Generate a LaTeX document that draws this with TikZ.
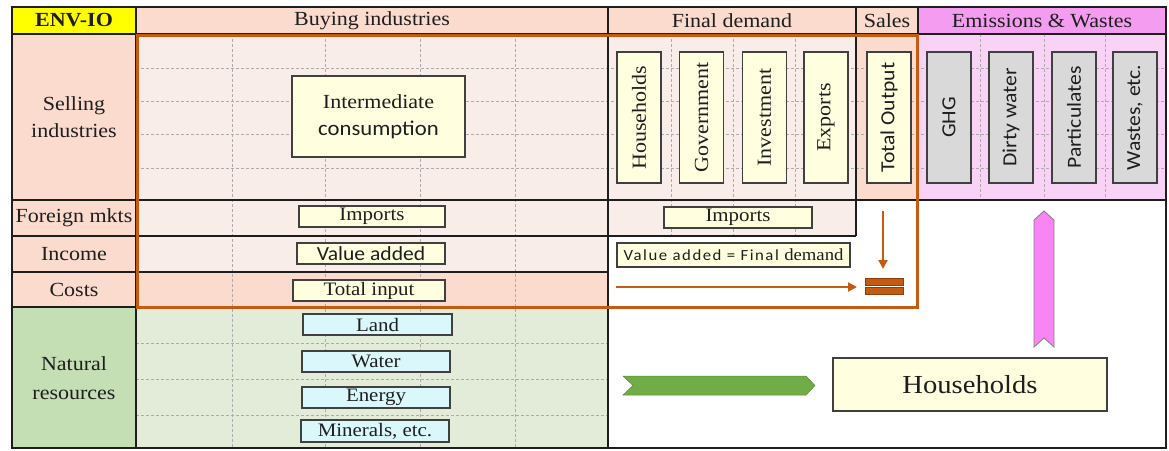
\documentclass[tikz,border=0pt]{standalone}
\usepackage{fontspec}
\setmainfont{Liberation Serif}[FakeStretch=1.1]
\setsansfont{Carlito}[FakeStretch=1.08]
\usetikzlibrary{arrows.meta}
\definecolor{peach}{HTML}{FADBCD}
\definecolor{lightpeach}{HTML}{F8EDE9}
\definecolor{envyellow}{HTML}{FFFF00}
\definecolor{magentahead}{HTML}{F49CF0}
\definecolor{lightmag}{HTML}{F9D3F6}
\definecolor{greenlabel}{HTML}{C5DFB4}
\definecolor{lightgreen}{HTML}{E3ECD9}
\definecolor{cream}{HTML}{FFFFE0}
\definecolor{cyanbox}{HTML}{DAF8FB}
\definecolor{graybox}{HTML}{D9D9D9}
\definecolor{orng}{HTML}{C55A11}
\definecolor{chevgreen}{HTML}{70AD47}
\definecolor{pinkarrow}{HTML}{F985F4}
\definecolor{ink}{HTML}{1E1E1E}
\newcommand{\fsz}[2]{\fontsize{#1}{#2}\selectfont}
\tikzset{
  gridline/.style={gray!65, densely dashed, line width=0.7pt},
  majorline/.style={ink, line width=2pt},
  box/.style={draw=ink!85, line width=1.2pt, inner sep=0pt, outer sep=0pt, text=ink, align=center},
  creambox/.style={box, fill=cream},
  cyanb/.style={box, fill=cyanbox},
  grayb/.style={box, fill=graybox},
  lbl/.style={text=ink, inner sep=0pt, align=center, font=\fsz{20}{21}},
  vbox/.style={rotate=90, minimum width=131pt, minimum height=44pt},
  oarrow/.style={orng, line width=2pt, -{Triangle[length=9pt,width=9pt]}},
  eqbar/.style={draw=orng!70!black, line width=0.6pt, fill=orng, minimum width=38pt, minimum height=7pt, inner sep=0pt, outer sep=0pt},
}
\begin{document}
\begin{tikzpicture}[x=1pt,y=-1pt]
\useasboundingbox (0,0) rectangle (1169,450);
% fills
\fill[envyellow] (12,7) rectangle (136,34);
\fill[peach] (136,7) rectangle (918,34);
\fill[magentahead] (918,7) rectangle (1166,34);
\fill[peach] (12,34) rectangle (136,307);
\fill[lightpeach] (136,34) rectangle (856,200);
\fill[peach] (856,34) rectangle (918,200);
\fill[lightmag] (918,34) rectangle (1166,200);
\fill[lightpeach] (136,200) rectangle (856,236);
\fill[lightpeach] (136,236) rectangle (608,272);
\fill[peach] (136,272) rectangle (608,307);
\fill[greenlabel] (12,307) rectangle (136,448);
\fill[lightgreen] (136,307) rectangle (608,448);
% dashed grid
\foreach \x in {232,325,420,515} \draw[gridline] (\x,34) -- (\x,448);
\foreach \x in {671,733,795} \draw[gridline] (\x,34) -- (\x,236);
\foreach \x in {980,1044,1105} \draw[gridline] (\x,34) -- (\x,200);
\foreach \y in {68,101,134,168} \draw[gridline] (136,\y) -- (1166,\y);
\foreach \y in {343,379,415} \draw[gridline] (136,\y) -- (608,\y);
% major lines
\draw[majorline] (12,7) rectangle (1166,448);
\draw[majorline] (12,34) -- (1166,34);
\draw[majorline] (136,7) -- (136,448);
\draw[majorline] (608,7) -- (608,448);
\draw[majorline] (856,7) -- (856,236);
\draw[majorline] (918,7) -- (918,200);
\draw[majorline] (12,200) -- (1166,200);
\draw[majorline] (12,236) -- (856,236);
\draw[majorline] (12,272) -- (608,272);
\draw[majorline] (12,307) -- (608,307);
% orange frame
\draw[orng, line width=3pt] (137.5,35) rectangle (917,307);
% headers
\node[lbl, font=\fsz{20}{21}\bfseries] (envio) at (74,20.5) {ENV-IO};
\node[lbl] (buying) at (372,20.5) {Buying industries};
\node[lbl] (final) at (732,20.5) {Final demand};
\node[lbl] (sales) at (887,20.5) {Sales};
\node[lbl] (emis) at (1042,20.5) {Emissions \& Wastes};
% row labels
\node[lbl, font=\fsz{20}{27}] (selling) at (74,117) {Selling\\industries};
\node[lbl] (foreign) at (74,218) {Foreign mkts};
\node[lbl] (income) at (74,254) {Income};
\node[lbl] (costs) at (74,290) {Costs};
\node[lbl, font=\fsz{20}{29}] (natural) at (74,378) {Natural\\resources};
% boxes
\node[creambox, minimum width=173pt, minimum height=81pt, font=\fsz{20}{27}] (inter) at (378.5,116.5)
  {Intermediate\\{\sffamily\fsz{21}{27}consumption}};
\node[creambox, minimum width=146pt, minimum height=21pt, font=\fsz{19}{20}] (impb) at (372,216.5) {Imports};
\node[creambox, minimum width=148pt, minimum height=21pt, font=\sffamily\fsz{20}{20}] (vadd) at (371,253.5) {Value added};
\node[creambox, minimum width=152pt, minimum height=21pt, font=\fsz{19}{20}] (tinput) at (369,290.5) {Total input};
\node[creambox, minimum width=148pt, minimum height=21pt, font=\fsz{19}{20}] (impf) at (738,217.5) {Imports};
\node[creambox, minimum width=233pt, minimum height=24pt, font=\sffamily\fsz{15.5}{16}] (vafd) at (733.5,255) {\addfontfeature{LetterSpace=10}Value added = Final {\rmfamily\fsz{17}{16}demand}};
% vertical boxes
\node[creambox, vbox, font=\fsz{20}{20}] (hh) at (639,117.5) {Households};
\node[creambox, vbox, font=\fsz{20}{20}] (gov) at (701.5,117.5) {Government};
\node[creambox, vbox, font=\fsz{20}{20}] (inv) at (764.5,117.5) {Investment};
\node[creambox, vbox, font=\fsz{20}{20}] (exp) at (826,117.5) {Exports};
\node[creambox, vbox, font=\sffamily\fsz{20}{20}] (tout) at (889,117.5) {Total Output};
\node[grayb, vbox, font=\sffamily\fsz{20}{20}] (ghg) at (949,117.5) {GHG};
\node[grayb, vbox, font=\sffamily\fsz{20}{20}] (dirty) at (1011,117.5) {Dirty water};
\node[grayb, vbox, font=\sffamily\fsz{20}{20}] (part) at (1074,117.5) {Particulates};
\node[grayb, vbox, font=\sffamily\fsz{20}{20}] (waste) at (1135,117.5) {Wastes, etc.};
% natural resources boxes
\node[cyanb, minimum width=149pt, minimum height=21pt, font=\fsz{19}{20}] (land) at (377.5,324.5) {Land};
\node[cyanb, minimum width=148pt, minimum height=21pt, font=\fsz{19}{20}] (water) at (376,361.5) {Water};
\node[cyanb, minimum width=148pt, minimum height=21pt, font=\fsz{19}{20}] (energy) at (376,397.5) {Energy};
\node[cyanb, minimum width=148pt, minimum height=22pt, font=\fsz{19}{20}] (minerals) at (375,431) {Minerals, etc.};
% households (bottom)
\node[creambox, minimum width=274pt, minimum height=53pt, font=\fsz{26}{26}] (hhbig) at (970,384.5) {Households};
% equal sign and arrows
\node[eqbar] (eqa) at (884,281.5) {};
\node[eqbar] (eqb) at (884,291) {};
\coordinate (dtop) at (883,211);
\coordinate (hstart) at (616,287);
\draw[oarrow, shorten >=9pt] (dtop) -- (dtop |- eqa.north);
\draw[oarrow, shorten >=8pt] (hstart) -- (hstart -| eqa.west);
% green chevron
\fill[chevgreen, draw=chevgreen!80!black, line width=0.5pt]
  (623,376) -- (806,376) -- (815,385.5) -- (806,395) -- (623,395) -- (633,385.5) -- cycle;
% pink arrow
\fill[pinkarrow, draw=gray, line width=0.8pt]
  (1034,220) -- (1044,211) -- (1054,220) -- (1054,347) -- (1044,338) -- (1034,347) -- cycle;
\end{tikzpicture}
\end{document}
